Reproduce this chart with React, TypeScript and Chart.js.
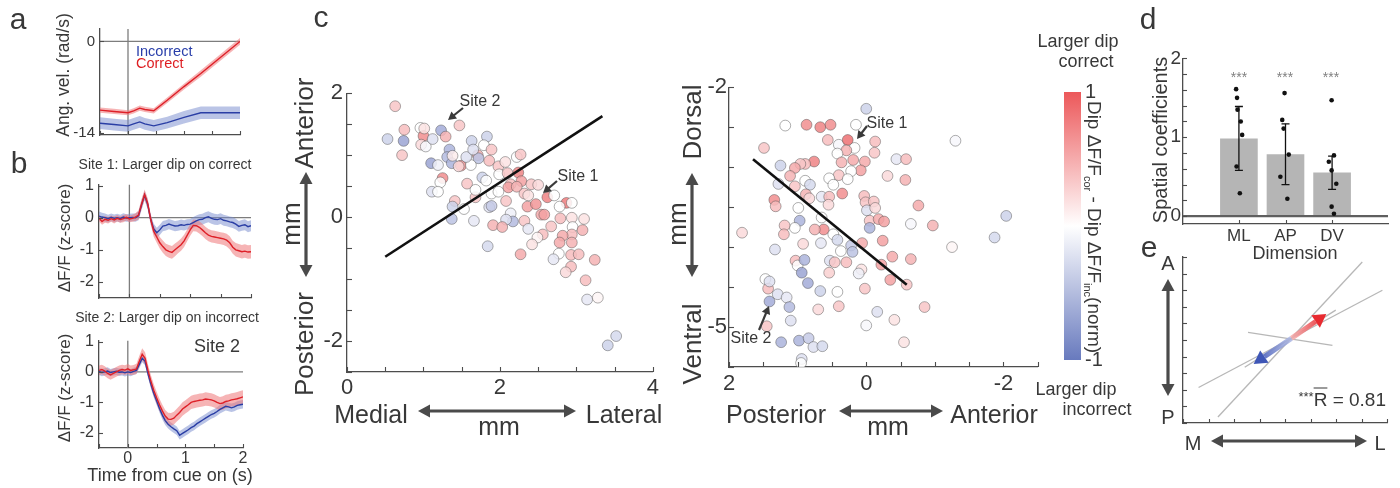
import React, { useEffect, useRef } from "react";
import { Chart, registerables } from "chart.js";

Chart.register(...registerables);

const FONT = "'Liberation Sans', Arial, Helvetica, sans-serif";
Chart.defaults.font.family = FONT;
const TXT = "#383838";
const AX = "#4d4d4d";
const RED = "rgb(222,32,40)";
const BLUE = "rgb(42,62,165)";
const RED_BAND = "rgba(238,118,120,0.55)";
const BLUE_BAND = "rgba(118,138,205,0.5)";

// ---------------- Panel a : angular velocity ----------------
const velTime = [-0.5, -0.25, 0, 0.1, 0.21, 0.3, 0.46, 0.7, 1.0, 1.3, 1.6, 2.0];
const velCorrect = [-10.5, -10.7, -10.9, -10.6, -10.2, -10.4, -10.6, -9.0, -6.9, -4.9, -2.8, 0];
const velCorrectErr = [0.4, 0.4, 0.4, 0.4, 0.4, 0.4, 0.4, 0.42, 0.45, 0.48, 0.5, 0.52];
const velIncorrect = [-12.5, -12.7, -12.9, -12.6, -12.3, -12.6, -12.9, -12.4, -11.6, -10.9, -10.9, -10.9];
const velIncorrectErr = [0.9, 0.9, 0.9, 0.9, 0.9, 0.9, 0.9, 0.9, 0.95, 0.95, 0.95, 0.95];

// ---------------- Panel b : dF/F traces ----------------
const traceTime = [-0.5, -0.45, -0.4, -0.35, -0.3, -0.25, -0.2, -0.15, -0.1, -0.05, 0, 0.05, 0.1, 0.15, 0.2, 0.25, 0.3, 0.35, 0.4, 0.45, 0.5, 0.55, 0.6, 0.65, 0.7, 0.75, 0.8, 0.85, 0.9, 0.95, 1.0, 1.05, 1.1, 1.15, 1.2, 1.25, 1.3, 1.35, 1.4, 1.45, 1.5, 1.55, 1.6, 1.65, 1.7, 1.75, 1.8, 1.85, 1.9, 1.95, 2.0];
const site1Correct = [-0.02, -0.12, -0.05, -0.08, -0.03, -0.07, -0.02, -0.06, -0.03, 0.01, -0.04, -0.02, 0.02, 0.08, 0.42, 0.72, 0.45, -0.05, -0.42, -0.6, -0.78, -0.9, -1.0, -1.05, -1.08, -1.0, -0.92, -0.84, -0.72, -0.55, -0.38, -0.24, -0.25, -0.3, -0.38, -0.47, -0.54, -0.58, -0.6, -0.62, -0.64, -0.66, -0.7, -0.78, -0.92, -1.0, -1.03, -1.06, -1.04, -1.07, -1.06];
const site1CorrectErr = [0.1, 0.1, 0.11, 0.1, 0.1, 0.11, 0.1, 0.1, 0.11, 0.1, 0.1, 0.11, 0.12, 0.14, 0.16, 0.16, 0.16, 0.16, 0.17, 0.18, 0.18, 0.19, 0.19, 0.2, 0.2, 0.2, 0.19, 0.19, 0.19, 0.18, 0.18, 0.18, 0.18, 0.19, 0.19, 0.19, 0.19, 0.19, 0.19, 0.19, 0.19, 0.19, 0.2, 0.2, 0.2, 0.21, 0.21, 0.21, 0.21, 0.21, 0.21];
const site1Incorrect = [0.05, 0.02, 0.0, -0.03, 0.01, -0.02, 0.0, -0.03, 0.02, -0.01, 0.0, 0.01, 0.0, 0.06, 0.4, 0.7, 0.42, -0.05, -0.35, -0.47, -0.38, -0.26, -0.24, -0.2, -0.23, -0.26, -0.25, -0.22, -0.24, -0.21, -0.2, -0.15, -0.1, -0.06, -0.05, 0.0, 0.03, -0.02, -0.05, -0.06, -0.03, -0.08, -0.1, -0.13, -0.15, -0.2, -0.27, -0.24, -0.22, -0.28, -0.25];
const site1IncorrectErr = [0.14, 0.13, 0.13, 0.12, 0.12, 0.12, 0.12, 0.12, 0.12, 0.12, 0.12, 0.12, 0.13, 0.14, 0.15, 0.15, 0.15, 0.15, 0.16, 0.16, 0.16, 0.16, 0.16, 0.16, 0.16, 0.16, 0.16, 0.16, 0.16, 0.16, 0.16, 0.17, 0.17, 0.17, 0.17, 0.17, 0.17, 0.17, 0.17, 0.17, 0.17, 0.17, 0.17, 0.17, 0.17, 0.17, 0.17, 0.17, 0.17, 0.17, 0.17];
const site2Correct = [0.05, 0.08, 0.03, -0.05, -0.1, -0.05, 0.0, 0.05, 0.08, 0.06, 0.1, 0.05, 0.07, 0.1, 0.35, 0.58, 0.45, 0.05, -0.3, -0.6, -0.85, -1.08, -1.28, -1.45, -1.55, -1.56, -1.52, -1.42, -1.33, -1.22, -1.15, -1.08, -1.0, -0.97, -0.95, -0.93, -0.92, -0.89, -0.9, -0.92, -0.95, -1.0, -1.04, -1.02, -0.97, -0.95, -0.92, -0.9, -0.88, -0.85, -0.82];
const site2CorrectErr = [0.16, 0.16, 0.16, 0.16, 0.16, 0.16, 0.16, 0.16, 0.16, 0.16, 0.16, 0.16, 0.16, 0.17, 0.18, 0.2, 0.2, 0.2, 0.2, 0.2, 0.2, 0.2, 0.2, 0.2, 0.21, 0.21, 0.21, 0.21, 0.22, 0.22, 0.22, 0.22, 0.22, 0.22, 0.22, 0.22, 0.22, 0.22, 0.22, 0.22, 0.22, 0.22, 0.22, 0.22, 0.22, 0.22, 0.22, 0.22, 0.22, 0.22, 0.22];
const site2Incorrect = [0.02, -0.02, 0.0, 0.03, -0.02, 0.0, 0.02, -0.01, 0.0, -0.03, 0.0, -0.02, 0.02, 0.05, 0.25, 0.45, 0.35, -0.05, -0.4, -0.7, -0.95, -1.2, -1.42, -1.6, -1.72, -1.8, -1.87, -1.93, -2.08, -2.02, -1.96, -1.9, -1.83, -1.78, -1.7, -1.64, -1.58, -1.52, -1.46, -1.4, -1.36, -1.3, -1.23, -1.18, -1.13, -1.15, -1.18, -1.15, -1.1, -1.08, -1.06];
const site2IncorrectErr = [0.12, 0.12, 0.12, 0.12, 0.12, 0.12, 0.12, 0.12, 0.12, 0.12, 0.12, 0.12, 0.12, 0.12, 0.13, 0.13, 0.13, 0.13, 0.13, 0.13, 0.13, 0.13, 0.14, 0.14, 0.14, 0.14, 0.14, 0.14, 0.14, 0.14, 0.14, 0.14, 0.14, 0.14, 0.14, 0.14, 0.14, 0.14, 0.14, 0.14, 0.14, 0.14, 0.14, 0.14, 0.14, 0.14, 0.14, 0.14, 0.14, 0.14, 0.14];

// ---------------- Panel c : recording sites ----------------
const siteML = [0.63, 0.53, 0.74, 0.75, 0.72, 0.96, 1.0, 1.01, 0.97, 1.03, 1.12, 1.23, 1.29, 1.47, 1.1, 1.19, 1.34, 1.31, 1.37, 1.38, 1.25, 1.22, 1.11, 1.19, 1.49, 1.46, 1.63, 1.83, 1.71, 1.72, 1.62, 1.56, 1.65, 1.79, 1.89, 1.86, 1.98, 2.07, 2.22, 2.27, 1.77, 1.82, 1.99, 2.1, 2.24, 2.28, 2.14, 2.11, 2.22, 2.41, 2.5, 1.57, 1.68, 1.68, 1.89, 1.98, 1.41, 1.38, 1.53, 1.37, 1.66, 1.86, 1.89, 2.08, 2.32, 2.37, 2.36, 2.47, 2.62, 2.71, 2.87, 2.94, 2.78, 2.14, 2.17, 2.08, 2.32, 1.91, 2.03, 1.84, 2.27, 2.37, 2.54, 2.58, 2.67, 2.56, 2.49, 2.42, 2.79, 2.94, 3.1, 2.95, 2.94, 3.08, 2.82, 2.78, 2.94, 2.77, 2.7, 2.93, 3.03, 2.93, 2.86, 3.24, 3.12, 3.14, 3.28, 3.52, 3.41];
const siteAPfromML = [1.79, 1.26, 1.23, 1.41, 1.0, 1.44, 1.31, 1.43, 1.17, 1.14, 1.26, 1.4, 1.3, 1.48, 0.87, 0.84, 1.09, 0.97, 0.87, 0.99, 0.63, 0.56, 0.41, 0.41, 0.83, 0.82, 1.23, 1.3, 1.0, 0.95, 0.84, 0.97, 1.09, 1.16, 1.09, 0.91, 0.82, 0.89, 0.97, 1.01, 0.64, 0.59, 0.69, 0.71, 0.72, 0.58, 0.53, 0.48, 0.49, 0.53, 0.52, 0.54, 0.32, 0.44, 0.38, 0.41, 0.26, 0.17, 0.13, -0.03, -0.06, 0.16, 0.18, 0.26, 0.38, 0.35, 0.17, 0.21, 0.32, 0.35, 0.23, 0.23, 0.17, 0.06, -0.07, -0.04, -0.06, -0.13, -0.16, -0.47, -0.6, -0.19, 0.04, 0.04, -0.15, -0.28, -0.33, -0.44, -0.02, -0.01, -0.03, -0.16, -0.28, -0.21, -0.3, -0.41, -0.41, -0.59, -0.68, -0.61, -0.6, -0.8, -0.89, -0.69, -1.02, -1.33, -1.3, -1.92, -2.07];
const siteDipA = [0.3, -0.3, -0.6, 0.35, 0.3, 0.0, 0.6, 0.15, 0.2, -0.05, -0.2, -0.55, 0.4, 0.3, -0.6, -0.1, -0.5, -0.45, -0.5, 0.1, 0.6, 0.0, -0.2, 0.0, 0.55, 0.2, -0.3, -0.3, 0.4, -0.4, 0.0, -0.2, -0.2, 0.0, 0.3, 0.35, 0.3, 0.15, 0.0, 0.3, -0.3, 0.0, 0.0, 0.3, 0.65, 0.5, 0.35, 0.5, 0.4, 0.3, 0.2, 0.3, 0.3, 0.0, 0.0, 0.0, 0.3, -0.3, 0.0, -0.4, -0.15, -0.2, -0.35, 0.3, 0.3, 0.15, 0.5, 0.55, 0.65, 0.0, 0.7, 0.0, 0.0, -0.1, -0.45, -0.2, 0.3, 0.4, 0.4, -0.25, 0.45, -0.15, 0.45, 0.5, 0.3, 0.35, 0.05, 0.15, 0.35, 0.15, 0.15, 0.0, 0.35, 0.4, 0.45, 0.45, 0.4, 0.0, -0.15, 0.35, 0.35, 0.35, 0.2, 0.4, 0.35, -0.15, 0.05, -0.25, -0.3];
const fitML = [0.5, 3.34];
const fitAP = [-0.64, 1.63];

const siteAP = [0.0, 1.18, 0.87, 0.67, 0.52, 0.15, 1.49, 0.56, 0.4, 0.27, 0.17, 0.29, 0.42, -0.13, -0.12, 0.36, 0.19, 0.02, 0.08, 0.22, 0.4, 0.27, 0.54, 0.48, 0.35, 0.76, 0.89, 0.96, 1.04, 1.11, 1.25, 1.28, 1.04, 0.89, 0.82, 0.88, 0.83, 0.65, 0.54, 0.55, 1.34, 1.32, 0.99, 0.65, 0.62, 0.75, 0.97, 1.04, 1.19, 1.2, 1.81, 1.33, 0.92, 0.66, 0.48, 0.42, 0.37, 0.22, 0.2, 0.06, 0.03, 0.01, -0.01, -0.11, -0.13, -0.05, -0.05, -0.18, -0.26, -0.24, -0.31, -0.57, -0.44, -0.58, -0.65, -0.76, -0.97, -1.25, -1.3, -2.04, -1.87, 1.03, 1.0, 0.9, 0.94, 0.85, 0.53, 0.46, 0.29, 0.54, 0.07, 0.11, -0.22, -0.38, -0.65, -0.35, -0.59, 0.02, 0.67, 0.42, 1.47, 1.43, 1.41, 1.29, 1.16, 1.41, 1.12, 0.7, 0.4, 1.1, 1.45, -0.16, -0.41, 0.0, -0.85, -0.55, 1.24, 0.98, 0.84, 0.77, 0.64, 0.94, 0.95];
const siteDV = [-2.27, -2.48, -2.47, -2.5, -2.47, -2.47, -2.76, -2.66, -2.72, -2.66, -2.76, -2.79, -2.83, -2.68, -2.82, -2.94, -2.91, -2.93, -3.04, -3.05, -3.1, -3.15, -3.14, -3.22, -3.33, -2.93, -2.96, -2.96, -3.01, -3.11, -2.98, -3.21, -3.24, -3.17, -3.22, -3.34, -3.39, -3.37, -3.37, -3.47, -3.41, -3.49, -3.51, -3.63, -3.78, -3.78, -3.67, -3.76, -3.73, -3.84, -3.82, -4.03, -3.96, -3.95, -3.84, -3.91, -4.05, -3.98, -4.06, -3.95, -3.36, -3.44, -3.54, -3.43, -3.51, -3.67, -3.76, -3.65, -3.68, -3.92, -3.11, -3.16, -2.9, -2.9, -3.71, -3.48, -3.73, -4.0, -2.67, -3.61, -3.88, -4.17, -4.23, -4.16, -4.32, -4.45, -4.17, -4.19, -4.19, -4.32, -4.28, -4.33, -4.22, -4.12, -4.15, -4.41, -4.47, -4.52, -4.55, -4.56, -4.4, -4.52, -4.43, -4.59, -4.63, -4.68, -4.75, -4.78, -4.74, -4.92, -4.99, -4.81, -4.91, -4.98, -4.75, -5.19, -5.19, -5.17, -5.14, -5.25, -5.24, -5.4, -5.45];
const siteDipB = [-0.3, 0.0, 0.6, 0.65, 0.6, 0.0, 0.3, 0.35, -0.05, 0.75, 0.0, 0.4, 0.0, 0.35, 0.3, 0.4, 0.45, 0.45, 0.5, 0.0, 0.3, 0.0, 0.0, 0.0, 0.6, 0.65, 0.35, 0.3, 0.45, 0.4, -0.3, -0.2, 0.3, 0.0, -0.25, 0.4, 0.2, -0.15, 0.35, 0.2, 0.6, 0.35, 0.0, 0.0, 0.6, 0.4, -0.5, 0.0, 0.3, 0.35, 0.2, -0.2, 0.2, -0.15, 0.0, -0.25, 0.0, -0.35, -0.4, 0.45, 0.35, 0.3, -0.2, 0.3, 0.2, 0.3, -0.5, 0.45, 0.5, 0.5, 0.2, 0.4, -0.15, 0.35, -0.05, 0.45, 0.4, 0.05, -0.05, -0.3, -0.25, 0.35, 0.0, -0.5, -0.6, -0.55, -0.2, 0.3, 0.35, 0.25, 0.15, -0.1, 0.5, 0.45, 0.4, 0.5, 0.3, 0.3, -0.3, 0.0, 0.0, 0.35, -0.2, -0.2, -0.15, -0.55, -0.45, 0.2, 0.3, -0.2, 0.3, -0.2, 0.15, -0.05, 0.3, 0.15, -0.5, -0.5, -0.35, -0.2, -0.25, -0.2, 0.0];
const fitAPb = [1.65, -0.59];
const fitDV = [-2.9, -4.47];

// ---------------- Panel d : spatial coefficients ----------------
const dims = ["ML", "AP", "DV"];
const dimPos = [1, 2, 3];
const coefMean = [0.98, 0.78, 0.55];
const coefLow = [0.58, 0.4, 0.34];
const coefHigh = [1.39, 1.17, 0.76];
const animalDim = [0.94, 0.96, 0.97, 1.04, 1.07, 0.95, 1.02, 1.98, 1.93, 1.96, 2.07, 1.89, 2.04, 2.99, 3.04, 2.93, 2.99, 3.09, 2.99, 3.04];
const animalCoef = [1.61, 1.5, 1.35, 1.2, 1.03, 0.63, 0.29, 1.56, 1.22, 1.11, 0.78, 0.5, 0.22, 1.47, 0.77, 0.69, 0.58, 0.41, 0.12, 0.03];
const coefTicks = [0, 0.2, 0.4, 0.6, 0.8, 1, 1.2, 1.4, 1.6, 1.8, 2];

// ---------------- Panel e : gradient vectors ----------------
const fanX1 = [-2.63, -3.39, -1.45, -1.58];
const fanY1 = [-4.64, -2.86, 0.46, -1.64];
const fanX2 = [3.03, 3.82, 1.86, 1.99];
const fanY2 = [4.7, 3.0, -0.32, 1.8];
const vecFromX = [0.25, 0.25];
const vecFromY = [0.1, 0.1];
const vecToX = [1.62, -1.23];
const vecToY = [1.56, -1.44];
const vecLight = ["rgba(246,175,175,0.85)", "rgba(175,185,228,0.85)"];
const vecDark = ["rgb(232,42,48)", "rgb(62,86,182)"];

// ---------------- helpers ----------------
const pts = (xs: number[], ys: number[]) => xs.map((x, i) => ({ x, y: ys[i] }));
const addE = (v: number[], e: number[], s: number) => v.map((y, i) => y + s * e[i]);

function dipColor(c: number, a = 0.85) {
  const e = c >= 0 ? [231, 66, 68] : [88, 104, 184];
  const t = Math.min(1, Math.abs(c));
  const col = [255, 255, 255].map((v, i) => Math.round(v + (e[i] - v) * t));
  return `rgba(${col[0]},${col[1]},${col[2]},${a})`;
}

const near = (v: number, t: number) => Math.abs(v - t) < 1e-6;
const every2 = (v: number) => (near(v / 2, Math.round(v / 2)) ? String(Math.round(v)) : "");
const everyInt = (v: number) => (near(v, Math.round(v)) ? String(Math.round(v)) : "");

type AxisSpec = {
  min: number; max: number; step?: number; at?: number[]; label?: (v: number) => string;
  fit: number; horizontal: boolean; font?: number; pad?: number; show?: boolean;
  reverse?: boolean; position?: string; border?: boolean;
};
function axis(o: AxisSpec): any {
  return {
    type: "linear",
    position: o.position ?? (o.horizontal ? "bottom" : "left"),
    min: o.min, max: o.max, reverse: !!o.reverse, offset: false,
    grid: { display: false, drawTicks: false },
    border: { display: o.border !== false, color: AX, width: 1.3 },
    ticks: {
      display: o.show !== false,
      stepSize: o.step, autoSkip: false, maxRotation: 0, minRotation: 0,
      padding: o.pad ?? 3, color: TXT, font: { family: FONT, size: o.font ?? 16 },
      callback: (v: number) => (o.label ? o.label(Number(v)) : String(v)),
    },
    afterBuildTicks: o.at ? (s: any) => { s.ticks = o.at!.map((v) => ({ value: v })); } : undefined,
    afterFit: o.horizontal ? (s: any) => { s.height = o.fit; } : (s: any) => { s.width = o.fit; },
  };
}

const innerTicks = {
  id: "innerTicks",
  afterDraw(chart: any, _a: any, opts: any) {
    const { ctx, chartArea } = chart;
    ctx.save();
    ctx.strokeStyle = AX;
    ctx.lineWidth = 1.1;
    for (const id of ["x", "y"]) {
      const s = chart.scales[id];
      const len = opts && opts[id];
      if (!s || !len) continue;
      for (const t of s.ticks) {
        const p = Math.round(s.getPixelForValue(t.value)) + 0.5;
        ctx.beginPath();
        if (id === "x") { ctx.moveTo(p, chartArea.bottom); ctx.lineTo(p, chartArea.bottom - len); }
        else { ctx.moveTo(chartArea.left, p); ctx.lineTo(chartArea.left + len, p); }
        ctx.stroke();
      }
    }
    ctx.restore();
  },
};

function baseOptions(pad: any, scales: any, ticks: any = { x: 4, y: 4 }) {
  return {
    responsive: false, maintainAspectRatio: false, animation: false, devicePixelRatio: 1, events: [],
    layout: { padding: pad },
    plugins: { legend: { display: false }, tooltip: { enabled: false }, innerTicks: ticks },
    scales,
  };
}

const NONE = "rgba(0,0,0,0)";
function traceConfig(p: any) {
  return {
    type: "line",
    data: {
      datasets: [
        { data: pts(p.time, addE(p.red, p.redErr, 1)), fill: "+1", backgroundColor: RED_BAND, borderColor: NONE, pointRadius: 0, order: 2 },
        { data: pts(p.time, addE(p.red, p.redErr, -1)), fill: false, borderColor: NONE, pointRadius: 0, order: 2 },
        { data: pts(p.time, addE(p.blue, p.blueErr, 1)), fill: "+1", backgroundColor: BLUE_BAND, borderColor: NONE, pointRadius: 0, order: 2 },
        { data: pts(p.time, addE(p.blue, p.blueErr, -1)), fill: false, borderColor: NONE, pointRadius: 0, order: 2 },
        { data: pts(p.time, p.red), borderColor: RED, borderWidth: 1.4, pointRadius: 0, fill: false, order: 0 },
        { data: pts(p.time, p.blue), borderColor: BLUE, borderWidth: 1.4, pointRadius: 0, fill: false, order: 1 },
        { data: [{ x: p.xMin, y: 0 }, { x: p.xMax, y: 0 }], borderColor: "#7d7d7d", borderWidth: 1.3, pointRadius: 0, fill: false, order: 3 },
        { data: [{ x: 0, y: p.yMin }, { x: 0, y: p.yMax }], borderColor: "#7d7d7d", borderWidth: 1.3, pointRadius: 0, fill: false, order: 3 },
      ],
    },
    options: baseOptions(p.pad, {
      x: axis({ min: p.xMin, max: p.xMax, step: 0.5, horizontal: true, fit: p.xFit, show: p.xShow, label: everyInt, font: 16, pad: 1 }),
      y: axis({ min: p.yMin, max: p.yMax, at: p.yAt, horizontal: false, fit: p.yFit, font: p.yFont, pad: 5, label: (v) => String(v) }),
    }),
    plugins: [innerTicks],
  };
}

function scatterConfig(p: any) {
  return {
    type: "scatter",
    data: {
      datasets: [
        { data: pts(p.fitX, p.fitY), showLine: true, borderColor: "#111", borderWidth: 2.6, pointRadius: 0, order: 0 },
        {
          data: pts(p.xs, p.ys), pointRadius: 5.4, pointBorderWidth: 0.8,
          pointBackgroundColor: p.cs.map((c: number) => dipColor(c)), pointBorderColor: "rgba(70,70,70,0.55)", order: 1,
        },
      ],
    },
    options: baseOptions(p.pad, {
      x: axis({ min: p.xMin, max: p.xMax, step: 0.5, reverse: p.reverse, horizontal: true, fit: p.xFit, font: 22, pad: p.xPad, label: every2 }),
      y: axis({ min: p.yMin, max: p.yMax, step: 0.5, horizontal: false, fit: p.yFit, font: 22, pad: p.yPad, label: p.yLabel }),
    }, { x: 5, y: 5 }),
    plugins: [innerTicks],
  };
}

const makeA = () => traceConfig({
  time: velTime, red: velCorrect, redErr: velCorrectErr, blue: velIncorrect, blueErr: velIncorrectErr,
  xMin: -0.5, xMax: 2, yMin: -14.3, yMax: 1.9, yAt: [-14, 0], pad: { top: 10, right: 12, left: 0, bottom: 0 },
  yFit: 60, xFit: 15, xShow: false, yFont: 15,
});
const makeB1 = () => traceConfig({
  time: traceTime, red: site1Correct, redErr: site1CorrectErr, blue: site1Incorrect, blueErr: site1IncorrectErr,
  xMin: -0.5, xMax: 2, yMin: -2.5, yMax: 1.03, yAt: [-2, -1, 0, 1], pad: { top: 8, right: 4, left: 0, bottom: 0 },
  yFit: 59, xFit: 17, xShow: false, yFont: 16,
});
const makeB2 = () => traceConfig({
  time: traceTime, red: site2Correct, redErr: site2CorrectErr, blue: site2Incorrect, blueErr: site2IncorrectErr,
  xMin: -0.5, xMax: 2, yMin: -2.5, yMax: 1.03, yAt: [-2, -1, 0, 1], pad: { top: 8, right: 7, left: 0, bottom: 0 },
  yFit: 59, xFit: 40, xShow: true, yFont: 16,
});
const makeC1 = () => scatterConfig({
  xs: siteML, ys: siteAPfromML, cs: siteDipA, fitX: fitML, fitY: fitAP,
  xMin: 0, xMax: 4, yMin: -2.5, yMax: 2, reverse: false, pad: { top: 8, right: 6, left: 0, bottom: 0 },
  xFit: 30, yFit: 37, xPad: 3, yPad: 4, yLabel: every2,
});
const makeC2 = () => scatterConfig({
  xs: siteAP, ys: siteDV, cs: siteDipB, fitX: fitAPb, fitY: fitDV,
  xMin: -2.5, xMax: 2, yMin: -5.5, yMax: -2, reverse: true, pad: { top: 8, right: 6, left: 0, bottom: 0 },
  xFit: 35, yFit: 39, xPad: 4, yPad: 2, yLabel: (v: number) => (near(v, -2) || near(v, -5) ? String(Math.round(v)) : ""),
});

const makeBar = () => ({
  type: "bar",
  data: {
    labels: [""],
    datasets: [{
      data: [[-1, 1]], barPercentage: 1, categoryPercentage: 1, borderWidth: 0,
      backgroundColor: (c: any) => {
        const ca = c.chart.chartArea;
        if (!ca) return "#fff";
        const g = c.chart.ctx.createLinearGradient(0, ca.top, 0, ca.bottom);
        g.addColorStop(0, "rgb(236,88,90)");
        g.addColorStop(0.5, "rgb(255,255,255)");
        g.addColorStop(1, "rgb(104,122,190)");
        return g;
      },
    }],
  },
  options: baseOptions({ top: 10, left: 10, bottom: 10, right: 0 }, {
    x: { display: false },
    y: axis({ min: -1, max: 1, at: [-1, 1], horizontal: false, fit: 33, position: "right", font: 20, pad: 4, border: false, label: (v) => String(v) }),
  }, {}),
});

const makeD = () => ({
  type: "bar",
  data: {
    datasets: [
      { type: "bar", data: pts(dimPos, coefMean), backgroundColor: "rgb(181,181,181)", barThickness: 37, borderWidth: 0, order: 3 },
      { type: "line", data: [{ x: -0.2, y: 0 }, { x: 4.2, y: 0 }], borderColor: "#5f5f5f", borderWidth: 2.2, pointRadius: 0, order: 2 },
      ...dimPos.map((x, i) => ({
        type: "line", data: [{ x, y: coefLow[i] }, { x, y: coefHigh[i] }], borderColor: "#111", borderWidth: 1.3,
        pointStyle: "line", pointRadius: 4, pointBorderColor: "#111", pointBorderWidth: 1.3, order: 1,
      })),
      { type: "scatter", data: pts(animalDim, animalCoef), pointRadius: 2.3, pointBackgroundColor: "#111", pointBorderWidth: 0, order: 0 },
    ],
  },
  options: baseOptions({ top: 12, right: 6, left: 0, bottom: 0 }, {
    x: axis({ min: -0.2, max: 4.2, at: dimPos, horizontal: true, fit: 36, font: 17, pad: 2, label: (v) => dims[Math.round(v) - 1] ?? "" }),
    y: axis({ min: -0.1, max: 2, at: coefTicks, horizontal: false, fit: 43, font: 19, pad: 2, label: everyInt }),
  }, { x: 4, y: 4 }),
  plugins: [innerTicks],
});

const vectorPlugin = {
  id: "vectors",
  afterDatasetsDraw(chart: any) {
    const { ctx, scales } = chart;
    const xs = scales.x, ys = scales.y;
    vecToX.forEach((tx, i) => {
      const x0 = xs.getPixelForValue(vecFromX[i]), y0 = ys.getPixelForValue(vecFromY[i]);
      const x1 = xs.getPixelForValue(tx), y1 = ys.getPixelForValue(vecToY[i]);
      const ang = Math.atan2(y1 - y0, x1 - x0);
      const hl = 13, hw = 7.5;
      const bx = x1 - Math.cos(ang) * hl, by = y1 - Math.sin(ang) * hl;
      const g = ctx.createLinearGradient(x0, y0, x1, y1);
      g.addColorStop(0, vecLight[i]);
      g.addColorStop(1, vecDark[i]);
      ctx.save();
      ctx.strokeStyle = g; ctx.lineWidth = 5; ctx.lineCap = "butt";
      ctx.beginPath(); ctx.moveTo(x0, y0); ctx.lineTo(bx, by); ctx.stroke();
      ctx.fillStyle = vecDark[i];
      ctx.beginPath();
      ctx.moveTo(x1, y1);
      ctx.lineTo(bx - Math.sin(ang) * hw, by + Math.cos(ang) * hw);
      ctx.lineTo(bx + Math.sin(ang) * hw, by - Math.cos(ang) * hw);
      ctx.closePath(); ctx.fill();
      ctx.restore();
    });
  },
};

const makeE = () => ({
  type: "scatter",
  data: {
    datasets: fanX1.map((x1, i) => ({
      data: [{ x: x1, y: fanY1[i] }, { x: fanX2[i], y: fanY2[i] }], showLine: true,
      borderColor: "rgba(175,175,175,0.9)", borderWidth: 1.3, pointRadius: 0,
    })),
  },
  options: baseOptions({ top: 7, right: 6, left: 0, bottom: 0 }, {
    x: axis({ min: -4, max: 4, step: 1, horizontal: true, fit: 7, show: false }),
    y: axis({ min: -5, max: 5, step: 1, horizontal: false, fit: 33, show: false }),
  }, { x: 4, y: 4 }),
  plugins: [innerTicks, vectorPlugin],
});

// ---------------- components ----------------
function ChartCanvas({ x, y, w, h, make }: { x: number; y: number; w: number; h: number; make: () => any }) {
  const ref = useRef<HTMLCanvasElement>(null);
  useEffect(() => {
    const chart = new Chart(ref.current as HTMLCanvasElement, make());
    return () => chart.destroy();
  }, []);
  return <canvas ref={ref} width={w} height={h} style={{ position: "absolute", left: x, top: y, width: w, height: h }} />;
}

function T({ x, y, s, rot = 0, color = TXT, anchor = "middle", children }: any) {
  const tx = anchor === "middle" ? "-50%" : anchor === "start" ? "0%" : "-100%";
  return (
    <div style={{
      position: "absolute", left: x, top: y, transform: `translate(${tx},-50%) rotate(${rot}deg)`,
      fontSize: s, lineHeight: 1, whiteSpace: "nowrap", color, fontFamily: FONT,
    }}>{children}</div>
  );
}

function Head({ x1, y1, x2, y2, len, half, color }: any) {
  const dx = x2 - x1, dy = y2 - y1, L = Math.hypot(dx, dy), ux = dx / L, uy = dy / L;
  const bx = x2 - ux * len, by = y2 - uy * len;
  return <polygon points={`${x2},${y2} ${bx - uy * half},${by + ux * half} ${bx + uy * half},${by - ux * half}`} fill={color} />;
}
function DArrow({ x1, y1, x2, y2, w = 3.2, len = 12, half = 6.5, color = "#4a4a4a" }: any) {
  const dx = x2 - x1, dy = y2 - y1, L = Math.hypot(dx, dy), ux = dx / L, uy = dy / L;
  return (
    <g>
      <line x1={x1 + ux * len * 0.8} y1={y1 + uy * len * 0.8} x2={x2 - ux * len * 0.8} y2={y2 - uy * len * 0.8} stroke={color} strokeWidth={w} />
      <Head x1={x2} y1={y2} x2={x1} y2={y1} len={len} half={half} color={color} />
      <Head x1={x1} y1={y1} x2={x2} y2={y2} len={len} half={half} color={color} />
    </g>
  );
}
function SArrow({ x1, y1, x2, y2, color = "#3a3a3a" }: any) {
  const dx = x2 - x1, dy = y2 - y1, L = Math.hypot(dx, dy), ux = dx / L, uy = dy / L;
  return (
    <g>
      <line x1={x1} y1={y1} x2={x2 - ux * 6} y2={y2 - uy * 6} stroke={color} strokeWidth={2.2} />
      <Head x1={x1} y1={y1} x2={x2} y2={y2} len={8} half={4.5} color={color} />
    </g>
  );
}

export default function App() {
  const sub = { fontSize: 11 };
  return (
    <div style={{ position: "absolute", left: 0, top: 0, width: 1400, height: 488, background: "#fff", overflow: "hidden", fontFamily: FONT }}>
      <ChartCanvas x={40} y={15} w={212} h={135} make={makeA} />
      <ChartCanvas x={40} y={170} w={215} h={145} make={makeB1} />
      <ChartCanvas x={40} y={326} w={210} h={162} make={makeB2} />
      <ChartCanvas x={310} y={76} w={352} h={326} make={makeC1} />
      <ChartCanvas x={690} y={72} w={354} h={330} make={makeC2} />
      <ChartCanvas x={1054} y={76} w={60} h={300} make={makeBar} />
      <ChartCanvas x={1140} y={45} w={254} h={215} make={makeD} />
      <ChartCanvas x={1150} y={250} w={243} h={180} make={makeE} />

      <svg width={1400} height={488} style={{ position: "absolute", left: 0, top: 0, pointerEvents: "none" }}>
        <DArrow x1={306} y1={172} x2={306} y2={277} />
        <DArrow x1={418} y1={411} x2={576} y2={411} />
        <DArrow x1={692} y1={173} x2={692} y2={277} />
        <DArrow x1={839} y1={411} x2={943} y2={411} />
        <DArrow x1={1168} y1={279} x2={1168} y2={396} />
        <DArrow x1={1211} y1={441} x2={1367} y2={441} />
        <SArrow x1={463} y1={108} x2={448} y2={120} />
        <SArrow x1={557} y1={181} x2={543} y2={193} />
        <SArrow x1={867} y1={126} x2={857} y2={139} />
        <SArrow x1={759} y1={330} x2={769} y2={306} />
      </svg>

      {/* panel letters */}
      <T x={18} y={19} s={30}>a</T>
      <T x={19} y={163} s={30}>b</T>
      <T x={321} y={17} s={30}>c</T>
      <T x={1148} y={19} s={30}>d</T>
      <T x={1149} y={247} s={30}>e</T>

      {/* panel a */}
      <T x={64} y={75} s={17.5} rot={-90}>Ang. vel. (rad/s)</T>
      <T x={136} y={51} s={14.5} anchor="start" color="rgb(40,62,170)">Incorrect</T>
      <T x={136} y={63} s={14.5} anchor="start" color="rgb(222,30,34)">Correct</T>

      {/* panel b */}
      <T x={165} y={164} s={14}>Site 1: Larger dip on correct</T>
      <T x={64} y={238} s={17} rot={-90}>ΔF/F (z-score)</T>
      <T x={167} y={317} s={14}>Site 2: Larger dip on incorrect</T>
      <T x={64} y={388} s={17} rot={-90}>ΔF/F (z-score)</T>
      <T x={217} y={346} s={18}>Site 2</T>
      <T x={170} y={475} s={18}>Time from cue on (s)</T>

      {/* panel c left */}
      <T x={304} y={123} s={26} rot={-90}>Anterior</T>
      <T x={291} y={224} s={26} rot={-90}>mm</T>
      <T x={304} y={344} s={26} rot={-90}>Posterior</T>
      <T x={371} y={414} s={25}>Medial</T>
      <T x={624} y={414} s={25}>Lateral</T>
      <T x={499} y={426} s={25}>mm</T>
      <T x={480} y={101} s={16}>Site 2</T>
      <T x={578} y={176} s={16}>Site 1</T>

      {/* panel c right */}
      <T x={692} y={122} s={26} rot={-90}>Dorsal</T>
      <T x={677} y={224} s={26} rot={-90}>mm</T>
      <T x={692} y={344} s={26} rot={-90}>Ventral</T>
      <T x={776} y={414} s={25}>Posterior</T>
      <T x={994} y={414} s={25}>Anterior</T>
      <T x={888} y={426} s={25}>mm</T>
      <T x={887} y={123} s={16}>Site 1</T>
      <T x={751} y={338} s={16}>Site 2</T>

      {/* colorbar */}
      <T x={1078} y={41} s={18}>Larger dip</T>
      <T x={1086} y={61} s={18}>correct</T>
      <T x={1076} y={389} s={18}>Larger dip</T>
      <T x={1097} y={409} s={18}>incorrect</T>
      <T x={1093} y={227} s={19} rot={90}>
        Dip ΔF/F<sub style={sub}>cor</sub> - Dip ΔF/F<sub style={sub}>inc</sub>(norm)
      </T>

      {/* panel d */}
      <T x={1160} y={140} s={20} rot={-90}>Spatial coefficients</T>
      <T x={1239} y={77} s={14} color="#808080">***</T>
      <T x={1285} y={77} s={14} color="#808080">***</T>
      <T x={1331} y={77} s={14} color="#808080">***</T>
      <T x={1295} y={253} s={18}>Dimension</T>

      {/* panel e */}
      <T x={1168} y={263} s={20}>A</T>
      <T x={1168} y={417} s={20}>P</T>
      <T x={1193} y={443} s={20}>M</T>
      <T x={1380} y={443} s={20}>L</T>
      <T x={1386} y={399} s={19} anchor="end">
        <span style={{ fontSize: 13, verticalAlign: "top" }}>***</span>
        <span style={{ textDecoration: "overline" }}>R</span> = 0.81
      </T>
    </div>
  );
}
